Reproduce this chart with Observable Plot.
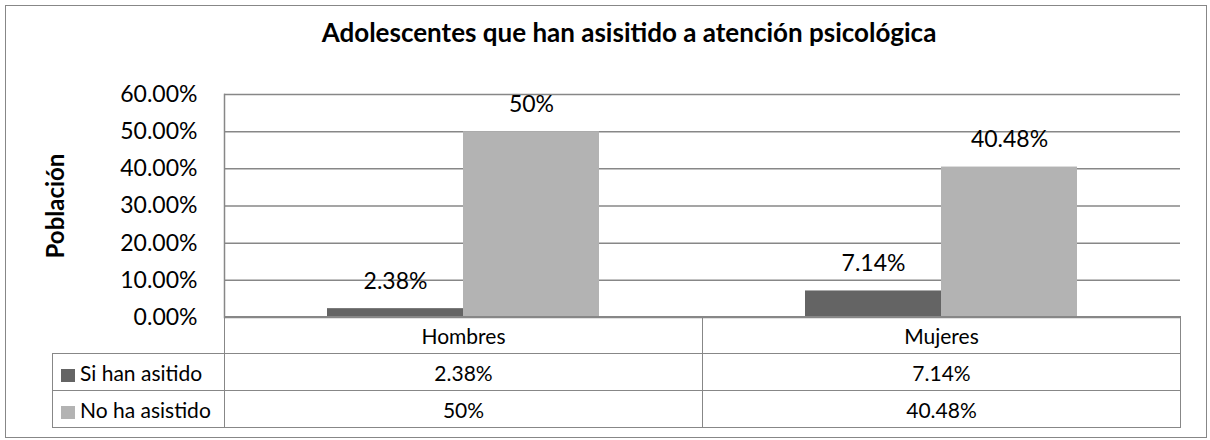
<!DOCTYPE html>
<html><head><meta charset="utf-8">
<script src="https://cdn.jsdelivr.net/npm/d3@7"></script>
<script src="https://cdn.jsdelivr.net/npm/@observablehq/plot@0.6"></script>
<style>
body{margin:0;background:#fff;font-family:Lato, sans-serif;color:#000;}
#chart{position:relative;width:1210px;height:440px;overflow:hidden;}
#border{position:absolute;left:5px;top:5px;width:1200px;height:431px;border:1.5px solid #878787;}
#title{position:absolute;left:48px;width:1162px;top:17px;text-align:center;font-weight:bold;font-size:26px;line-height:1.2;}
#plot{position:absolute;left:0;top:0;}
#plot g[aria-label="y-axis label"] text{font-weight:bold;font-size:24px;}
#tbl{position:absolute;left:52px;top:316.25px;border-collapse:collapse;table-layout:fixed;font-size:21px;}
#tbl td{border:1.5px solid #878787;height:36px;text-align:center;padding:0;white-space:nowrap;}
#tbl td.blank{border-top:none;border-left:none;}
#tbl td.leg{text-align:left;padding-left:8px;}
.sw{display:inline-block;width:14px;height:13px;margin-right:5px;vertical-align:-1px;}
</style>
</head><body>
<div id="chart">
  <div id="border"></div>
  <div id="title"></div>
  <div id="plot"></div>
  <table id="tbl"></table>
</div>
<script>
const title = "Adolescentes que han asisitido a atención psicológica";
const yLabel = "Población";
const categories = ["Hombres", "Mujeres"];
const series = ["Si han asitido", "No ha asistido"];
const siValues = [2.38, 7.14];
const noValues = [50, 40.48];
const yTicks = [0, 10, 20, 30, 40, 50, 60];
const seriesColors = ["#646464", "#b3b3b3"];

const valuesBySeries = [siValues, noValues];
const data = categories.flatMap((c, i) => series.map((s, j) => ({cat: c, series: s, value: valuesBySeries[j][i]})));
const fmt = v => `${+v.toFixed(2)}%`;

document.getElementById("title").textContent = title;

const chart = Plot.plot({
  width: 1210, height: 320,
  marginTop: 94, marginBottom: 3, marginLeft: 224, marginRight: 30,
  style: {fontFamily: "Lato, sans-serif", fontSize: "23px", color: "#000", background: "transparent", overflow: "visible"},
  fx: {domain: categories, padding: 0, axis: null},
  x: {domain: series, paddingInner: 0, paddingOuter: 0.757, axis: null},
  y: {domain: [0, 60]},
  color: {domain: series, range: seriesColors},
  marks: [
    Plot.gridY(yTicks, {stroke: "#878787", strokeOpacity: 1, strokeWidth: 1.5}),
    Plot.frame({anchor: "left", facetAnchor: "left", stroke: "#878787", strokeWidth: 1.5}),
    Plot.barY(data, {fx: "cat", x: "series", y: "value", fill: "series"}),
    Plot.text(data, {fx: "cat", x: "series", y: "value", text: d => fmt(d.value), dy: -27, fontSize: 23, fill: "#000"}),
    Plot.axisY(yTicks, {tickSize: 0, tickPadding: 27, tickFormat: d => d.toFixed(2) + "%", label: yLabel, labelAnchor: "center", labelArrow: "none", labelOffset: 178, fontSize: 23})
  ]
});
document.getElementById("plot").appendChild(chart);

// data table
const tbl = document.getElementById("tbl");
const colgroup = document.createElement("colgroup");
[172, 478, 478].forEach(w => { const c = document.createElement("col"); c.style.width = w + "px"; colgroup.appendChild(c); });
tbl.appendChild(colgroup);
const hr = tbl.insertRow();
const blank = hr.insertCell(); blank.className = "blank";
categories.forEach(c => { hr.insertCell().textContent = c; });
series.forEach((s, j) => {
  const r = tbl.insertRow();
  const lc = r.insertCell(); lc.className = "leg";
  const sw = document.createElement("span"); sw.className = "sw"; sw.style.background = seriesColors[j];
  lc.appendChild(sw); lc.appendChild(document.createTextNode(s));
  valuesBySeries[j].forEach(v => { r.insertCell().textContent = fmt(v); });
});
</script>
</body></html>
